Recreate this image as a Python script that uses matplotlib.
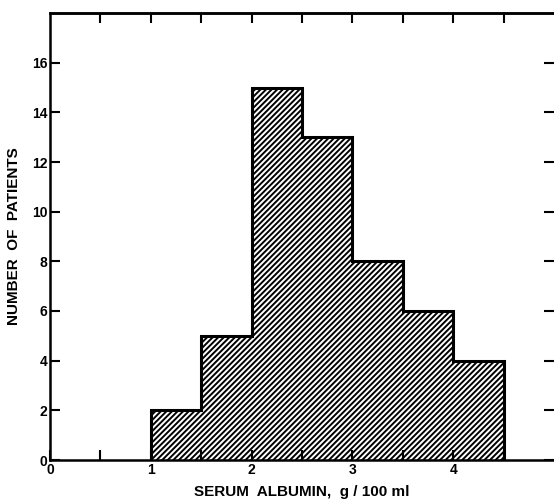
import matplotlib
matplotlib.use("Agg")
import matplotlib.pyplot as plt

# histogram of serum albumin
bin_edges = [1.0, 1.5, 2.0, 2.5, 3.0, 3.5, 4.0, 4.5]
patients = [2, 5, 15, 13, 8, 6, 4]
x_labels = ["0", "1", "2", "3", "4"]
y_labels = ["0", "2", "4", "6", "8", "10", "12", "14", "16"]

plt.rcParams["font.family"] = ["Liberation Sans", "DejaVu Sans"]
plt.rcParams["hatch.linewidth"] = 1.4

fig = plt.figure(figsize=(5.54, 4.99), dpi=100)
ax = fig.add_axes([50 / 554, 1 - 460 / 499, 504 / 554, 447 / 499])

# hatched fill, then heavy outline
ax.stairs(patients, bin_edges, fill=True, facecolor="white",
          edgecolor="black", hatch="//////", linewidth=0)
ax.stairs(patients, bin_edges, baseline=0, color="black", linewidth=2.2)

ax.set_xlim(0, 5.0)
ax.set_ylim(0, 18)

ax.set_xticks([0, 1, 2, 3, 4])
ax.set_xticklabels(x_labels, fontweight="bold", fontsize=10)
ax.set_xticks([0.5, 1.5, 2.5, 3.5, 4.5], minor=True)
ax.set_yticks(range(0, 17, 2))
ax.set_yticklabels(y_labels, fontweight="bold", fontsize=10)

ax.tick_params(axis="x", which="both", direction="in", length=7, width=1.5,
               top=False, pad=2)
ax.tick_params(axis="y", direction="in", length=7, width=1.5,
               right=True, pad=2)

# top ticks every half unit
top = ax.secondary_xaxis("top")
top.set_xticks([0.5, 1, 1.5, 2, 2.5, 3, 3.5, 4, 4.5])
top.tick_params(direction="in", length=7, width=1.5, labeltop=False)
top.spines["top"].set_linewidth(1.8)

for side in ["left", "bottom", "top"]:
    ax.spines[side].set_linewidth(1.8)
ax.spines["right"].set_visible(False)

ax.set_xlabel("SERUM  ALBUMIN,  g / 100 ml", fontsize=11, fontweight="bold",
              labelpad=6)
ax.set_ylabel("NUMBER  OF  PATIENTS", fontsize=11, fontweight="bold", labelpad=8)

fig.savefig("out.png", dpi=100)
